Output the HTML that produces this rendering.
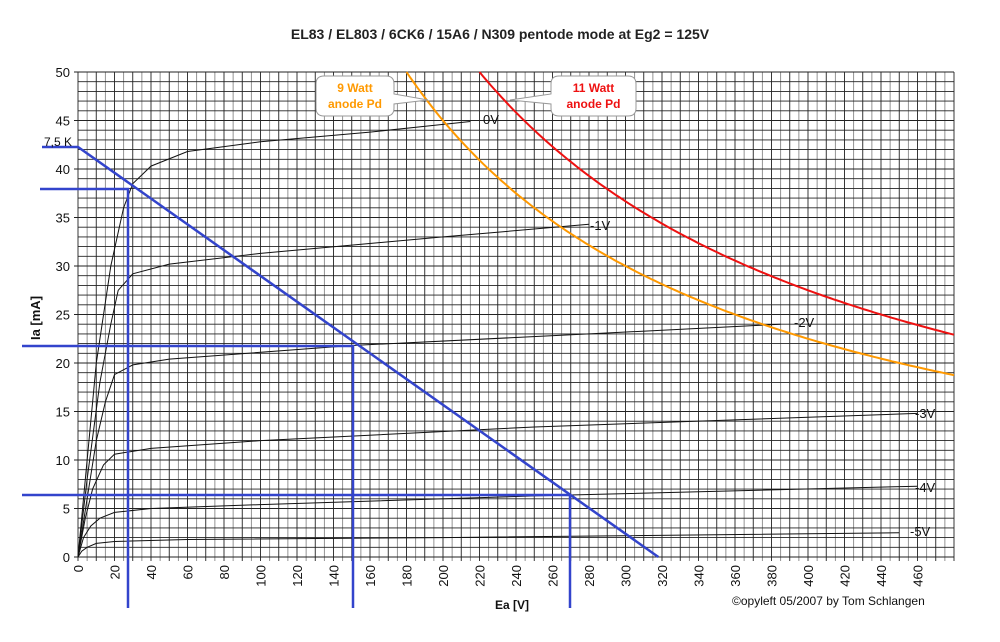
<!DOCTYPE html>
<html><head><meta charset="utf-8"><style>
html,body{margin:0;padding:0;background:#fff;width:1000px;height:642px;overflow:hidden}
svg{display:block;font-family:"Liberation Sans",Arial,sans-serif}
</style></head><body>
<svg id="s" width="1000" height="642" viewBox="0 0 1000 642" xmlns="http://www.w3.org/2000/svg">
<text x="500" y="39" text-anchor="middle" font-size="14" font-weight="bold" fill="#222">EL83 / EL803 / 6CK6 / 15A6 / N309 pentode mode at Eg2 = 125V</text>
<g id="grid"></g>
<g id="curves" fill="none" stroke="#111" stroke-width="1"></g>
<g id="lbl" font-size="13" fill="#111"></g>
<text x="40" y="318" font-size="13" font-weight="bold" text-anchor="middle" transform="rotate(-90 40 318)" fill="#111">Ia [mA]</text>
<text x="495" y="609" font-size="12" font-weight="bold" fill="#111">Ea [V]</text>
<text x="732" y="605" font-size="12" fill="#111">©opyleft 05/2007 by Tom Schlangen</text>
<text x="44" y="146" font-size="12" fill="#111">7,5 K</text>
</svg>
<script>
var NS="http://www.w3.org/2000/svg";
function X(v){return 78+v*1.825}function Y(i){return 557-i*9.7}
function el(p,t,a,txt){var e=document.createElementNS(NS,t);for(var k in a)e.setAttribute(k,a[k]);if(txt!=null)e.textContent=txt;p.appendChild(e);return e}
var g=document.getElementById('grid'),c=document.getElementById('curves'),l=document.getElementById('lbl');
for(var v=0;v<=480;v+=5)el(g,'line',{x1:X(v),x2:X(v),y1:Y(50),y2:Y(0)+4,stroke:(v%10==0?'#222':'#888'),'stroke-width':0.9});
for(var i=0;i<=50;i++)el(g,'line',{x1:X(0)-(i%5==0?4:0),x2:X(480),y1:Y(i),y2:Y(i),stroke:'#222','stroke-width':0.9});
for(var i=0;i<=50;i+=5)el(l,'text',{x:X(0)-8,y:Y(i)+5,'text-anchor':'end'},i);
for(var v=0;v<=460;v+=20){var x=X(v)+5,y=Y(0)+8;el(l,'text',{x:x,y:y,'text-anchor':'end',transform:'rotate(-90 '+x+' '+y+')'},v)}
function curve(pts,col,w){var d='';pts.forEach(function(p,k){d+=(k?'L':'M')+X(p[0]).toFixed(1)+' '+Y(p[1]).toFixed(1)});el(c,'path',{d:d,stroke:col||'#111','stroke-width':w||1})}
curve([[0,0],[4,8],[10,20],[18,30],[25,36],[30,38.5],[40,40.3],[60,41.8],[100,42.8],[160,43.8],[215,44.9]]);
curve([[0,0],[5,8],[12,18],[18,24],[22,27.5],[30,29.2],[50,30.2],[100,31.3],[200,33],[280,34.3]]);
curve([[0,0],[5,6],[10,12],[15,16],[20,18.8],[30,19.8],[50,20.4],[150,21.8],[280,23],[385,24]]);
curve([[0,0],[4,4],[8,7],[14,9.5],[20,10.6],[40,11.2],[100,12],[250,13.4],[460,14.8]]);
curve([[0,0],[3,2],[7,3.2],[12,4],[20,4.6],[40,5],[100,5.4],[250,6.3],[460,7.3]]);
curve([[0,0],[2,0.6],[5,1],[10,1.4],[20,1.6],[60,1.8],[200,2],[450,2.5]]);
function pw(W,col){var p=[];for(var v=W*1000/50;v<=480;v+=2)p.push([v,W*1000/v]);curve(p,col,2)}
pw(9,'#ff9900');pw(11,'#ee1111');
[['0V',483,124],['-1V',590,230],['-2V',794,327],['-3V',915,418],['-4V',915,492],['-5V',910,536]].forEach(function(a){el(l,'text',{x:a[1],y:a[2]},a[0])});
var B='#3344cc';
function bl(d){el(c,'path',{d:d,stroke:B,'stroke-width':2.5,fill:'none'})}
bl('M42 147 L78 147 L'+X(318)+' '+Y(0));
bl('M40 189 L128 189 L128 608');
bl('M22 346 L353 346 L353 608');
bl('M22 495 L570 495 L570 608');
function box(x1,x2,px,col,t1,t2,left){var y1=76,y2=116,r=8,d;
 if(left) d='M'+(x1+r)+' '+y1+'H'+(x2-r)+'Q'+x2+' '+y1+' '+x2+' '+(y1+r)+'V94L'+px+' 100L'+x2+' 104V'+(y2-r)+'Q'+x2+' '+y2+' '+(x2-r)+' '+y2+'H'+(x1+r)+'Q'+x1+' '+y2+' '+x1+' '+(y2-r)+'V'+(y1+r)+'Q'+x1+' '+y1+' '+(x1+r)+' '+y1+'Z';
 else d='M'+(x1+r)+' '+y1+'H'+(x2-r)+'Q'+x2+' '+y1+' '+x2+' '+(y1+r)+'V'+(y2-r)+'Q'+x2+' '+y2+' '+(x2-r)+' '+y2+'H'+(x1+r)+'Q'+x1+' '+y2+' '+x1+' '+(y2-r)+'V104L'+px+' 100L'+x1+' 94V'+(y1+r)+'Q'+x1+' '+y1+' '+(x1+r)+' '+y1+'Z';
 el(c,'path',{d:d,fill:'#fff',stroke:'#999','stroke-width':1});
 var cx=(x1+x2)/2;el(l,'text',{x:cx,y:92,'text-anchor':'middle',fill:col,'font-weight':'bold','font-size':12},t1);
 el(l,'text',{x:cx,y:108,'text-anchor':'middle',fill:col,'font-weight':'bold','font-size':12},t2)}
box(316,394,428,'#ff9900','9 Watt','anode Pd',true);
box(551,636,510,'#ee1111','11 Watt','anode Pd',false);
</script>
</body></html>
